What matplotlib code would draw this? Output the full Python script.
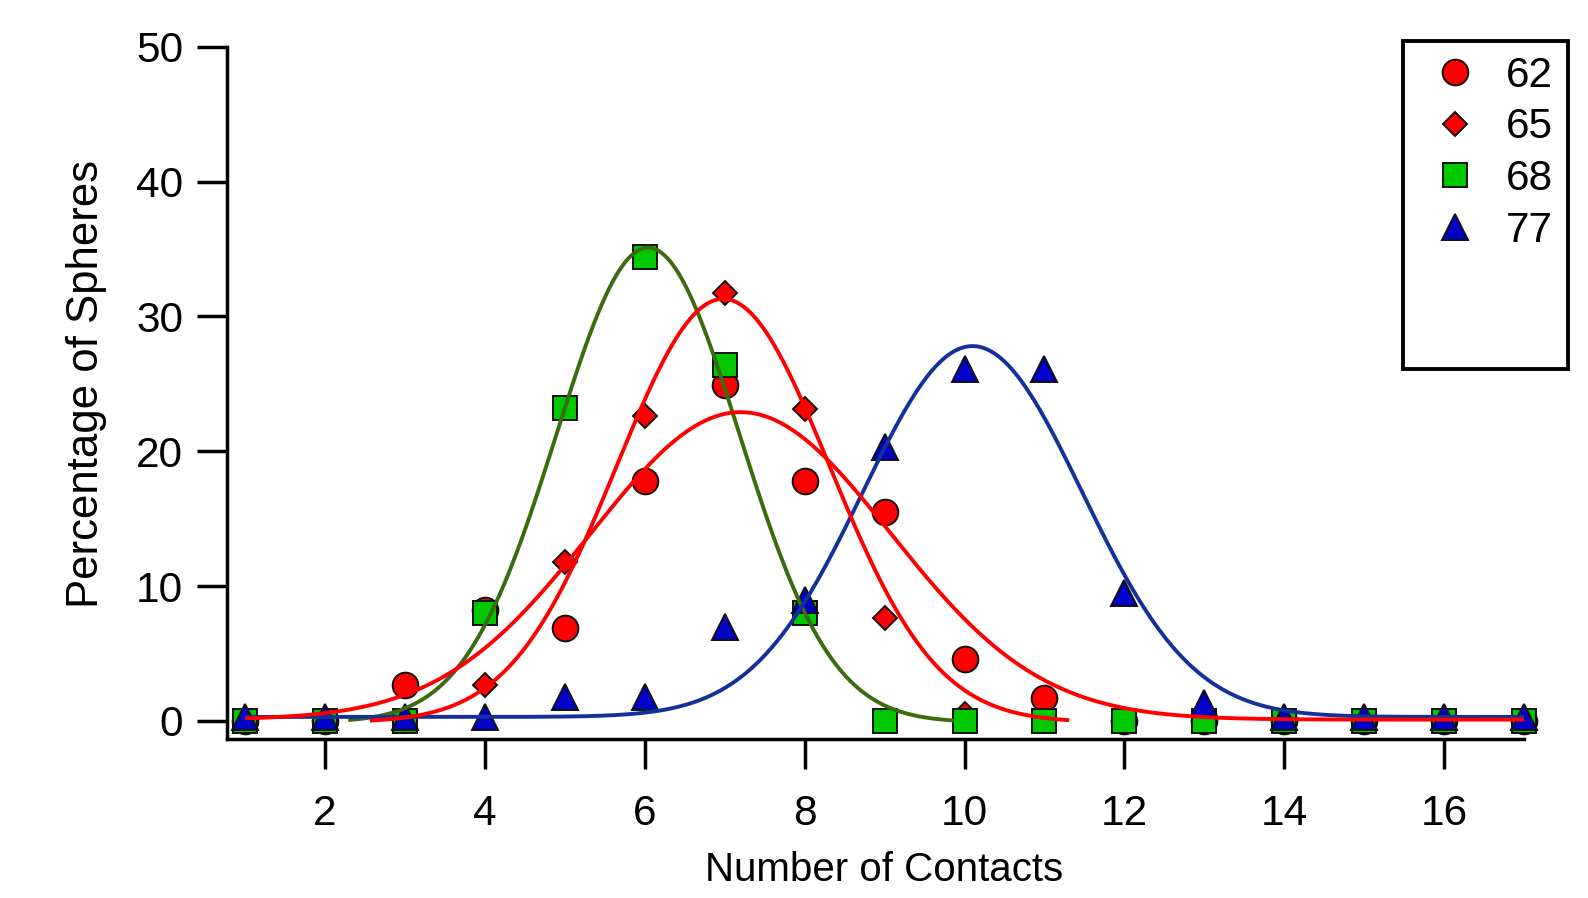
import numpy as np
import matplotlib
matplotlib.use('Agg')
import matplotlib.pyplot as plt
from matplotlib.lines import Line2D

plt.rcParams['font.family'] = ['Liberation Sans', 'DejaVu Sans']

# percentage of spheres with a given number of contacts, per packing fraction
contacts = np.arange(1, 18)
pct_62 = [0, 0, 2.7, 8.2, 6.9, 17.8, 24.9, 17.8, 15.5, 4.6, 1.7, 0, 0, 0, 0, 0, 0]
pct_65 = [0, 0, 0, 2.7, 11.8, 22.6, 31.7, 23.1, 7.6, 0.5, 0, 0, 0, 0, 0, 0, 0]
pct_68 = [0, 0, 0, 8.0, 23.2, 34.4, 26.4, 8.0, 0, 0, 0, 0, 0, 0, 0, 0, 0]
pct_77 = [0.3, 0.3, 0.3, 0.3, 1.8, 1.8, 7.0, 9.0, 20.3, 26.1, 26.1, 9.5, 1.3,
          0.3, 0.3, 0.3, 0.3]
labels = ['62', '65', '68', '77']

# gaussian fits: (y0, amplitude, centre, width, x start, x end)
fit_62 = (0.1, 22.8, 7.2, 2.65, 1.0, 17.0)
fit_65 = (-0.1, 31.4, 6.98, 1.88, 2.56, 11.31)
fit_68 = (-0.1, 35.2, 6.04, 1.62, 2.29, 9.87)
fit_77 = (0.3, 27.5, 10.1, 1.94, 1.0, 17.0)


def gauss_curve(params, n=400):
    y0, a, x0, w, lo, hi = params
    x = np.linspace(lo, hi, n)
    return x, y0 + a * np.exp(-((x - x0) / w) ** 2)


RED = '#ff0000'
GREEN = '#00c800'
BLUE = '#0000c8'
GREEN_LINE = '#3b6b10'
BLUE_LINE = '#12329a'

fig = plt.figure(figsize=(15.88, 8.98), dpi=100)
ax = fig.add_axes([0.1428, 0.1771, 0.8169, 0.7709])

edge = dict(markeredgecolor='#111111', markeredgewidth=1.4)
styles = [
    dict(marker='o', markersize=18.5, markerfacecolor=RED),
    dict(marker='D', markersize=12.5, markerfacecolor=RED),
    dict(marker='s', markersize=17.5, markerfacecolor=GREEN),
    dict(marker='^', markersize=18.5, markerfacecolor=BLUE),
]
for vals, st in zip([pct_62, pct_65, pct_68, pct_77], styles):
    ax.plot(contacts, vals, linestyle='none', clip_on=False, **st, **edge)

lw = 2.8
for params, col in [(fit_68, GREEN_LINE), (fit_77, BLUE_LINE),
                    (fit_65, RED), (fit_62, RED)]:
    x, y = gauss_curve(params)
    ax.plot(x, y, color=col, lw=lw, solid_capstyle='butt')

ax.set_xlim(0.77, 17.0)
ax.set_ylim(-1.335, 50)
ax.set_xticks(np.arange(2, 17, 2))
ax.set_yticks(np.arange(0, 51, 10))

for side in ['top', 'right']:
    ax.spines[side].set_visible(False)
for side in ['left', 'bottom']:
    ax.spines[side].set_linewidth(2.5)
ax.tick_params(direction='out', length=21.5, width=2.5, labelsize=30.5)
ax.tick_params(axis='x', pad=18)
ax.tick_params(axis='y', pad=10)

ax.set_xlabel('Number of Contacts', fontsize=29)
ax.set_ylabel('Percentage of Spheres', fontsize=31.5)
ax.xaxis.set_label_coords(0.507, -0.162)
ax.yaxis.set_label_coords(-0.092, 0.513)

handles = [Line2D([], [], linestyle='none', **st, **edge) for st in styles]
# two blank rows keep the box as tall as the original panel legend
handles += [Line2D([], [], linestyle='none') for _ in range(2)]
leg = ax.legend(handles, labels + [' ', ' '], loc='upper left',
                bbox_to_anchor=(1403 / 1588, 1 - 40.5 / 898),
                bbox_transform=fig.transFigure, borderaxespad=0,
                fontsize=30.5, frameon=True, fancybox=False, framealpha=1,
                borderpad=0.36, handlelength=1.74, handletextpad=0.33,
                labelspacing=0.275, numpoints=1)
leg.get_frame().set_edgecolor('black')
leg.get_frame().set_linewidth(2.8)

fig.savefig('out.png', dpi=100)
